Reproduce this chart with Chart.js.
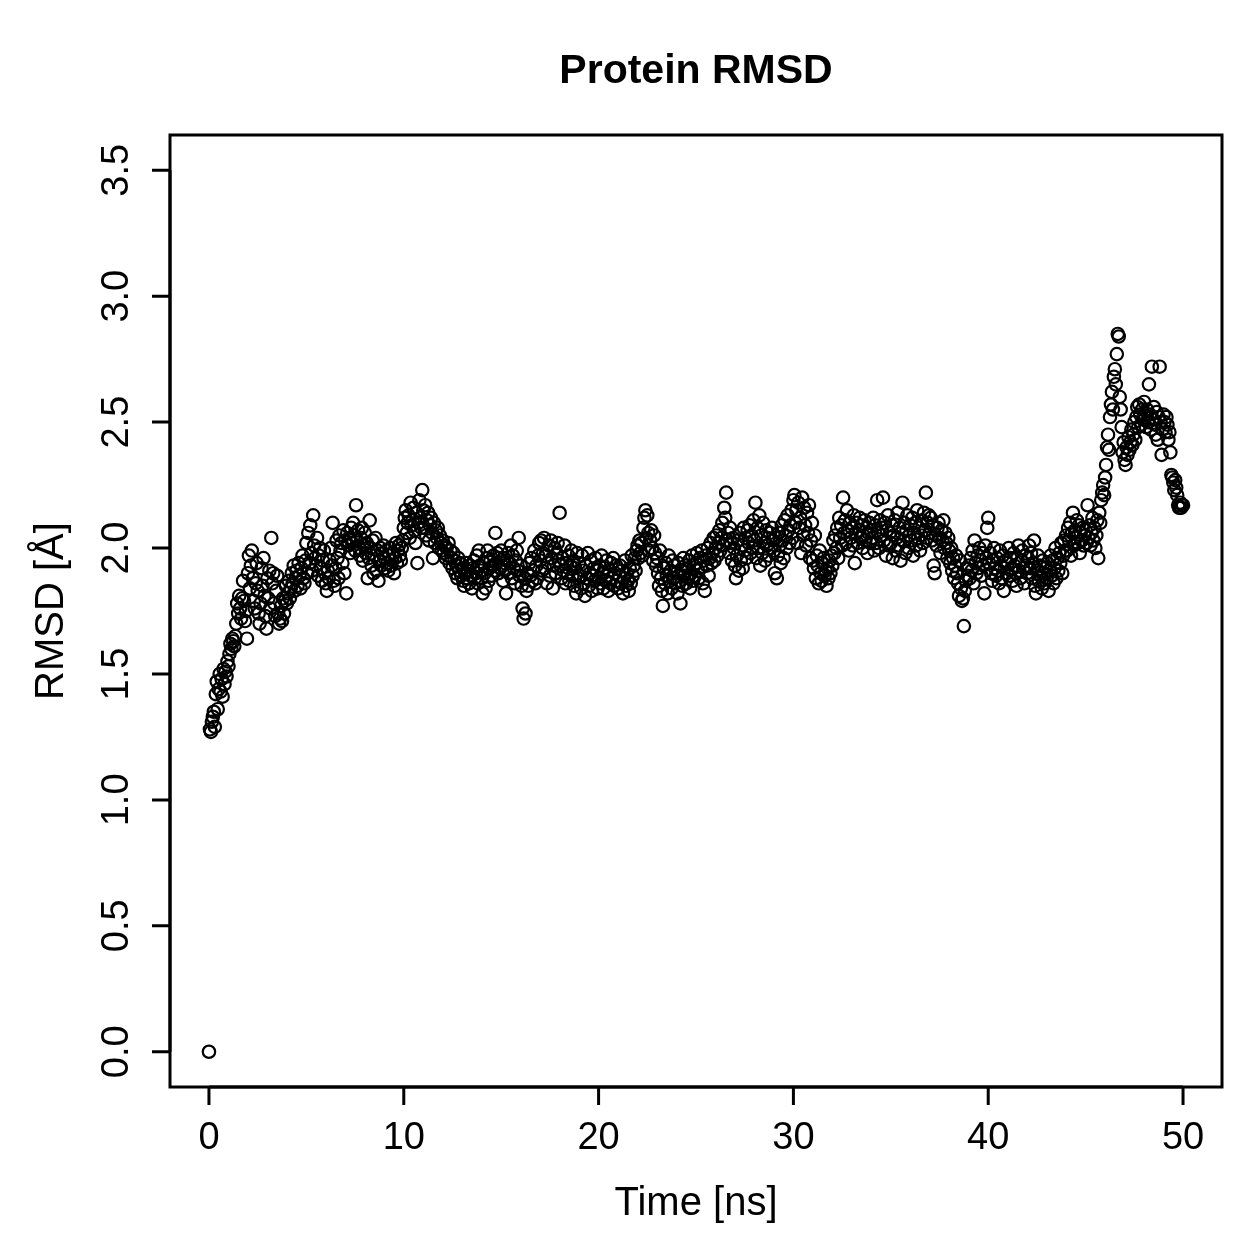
<!DOCTYPE html>
<html>
<head>
<meta charset="utf-8">
<title>Protein RMSD</title>
<script src="https://cdn.jsdelivr.net/npm/chart.js@4/dist/chart.umd.min.js"></script>
<style>
  body { margin: 0; background: #fff; }
  canvas { display: block; }
</style>
</head>
<body>
<canvas id="rmsdChart" width="1259" height="1259"></canvas>
<script>
// RMSD (Angstrom), one frame every 0.05 ns, rows of 1 ns
const frameStep = 0.05;
const rmsd = [
  0.00,1.28,1.27,1.31,1.33,1.35,1.29,1.42,1.47,1.36,1.44,1.50,1.43,1.48,1.41,1.52,1.46,1.51,1.49,1.55,
  1.53,1.58,1.62,1.60,1.64,1.63,1.61,1.65,1.70,1.78,1.74,1.81,1.76,1.72,1.80,1.87,1.79,1.71,1.75,1.64,
  1.90,1.97,1.84,1.93,1.99,1.88,1.79,1.76,1.86,1.94,1.83,1.74,1.70,1.78,1.92,1.85,1.96,1.81,1.73,1.68,
  1.88,1.80,1.91,1.76,2.04,1.86,1.90,1.78,1.73,1.83,1.89,1.74,1.70,1.72,1.77,1.71,1.80,1.74,1.79,1.85,
  1.78,1.82,1.87,1.80,1.84,1.90,1.86,1.93,1.83,1.88,1.91,1.85,1.94,1.89,1.84,1.92,1.97,1.88,1.86,1.95,
  2.02,1.90,2.06,1.94,2.09,1.98,1.91,2.13,2.01,1.96,1.93,2.04,1.89,1.97,2.00,1.92,1.87,1.95,1.99,1.90,
  1.86,1.83,1.91,1.88,1.95,2.00,1.93,2.10,1.87,1.85,1.92,2.03,1.96,1.88,2.05,1.99,2.02,1.94,2.07,1.90,
  2.03,1.82,2.06,2.01,2.04,1.98,2.08,2.02,2.10,2.05,1.99,2.17,2.03,2.07,2.00,1.97,2.04,2.08,1.95,2.01,
  2.06,1.98,2.02,1.88,1.96,2.11,2.00,1.93,2.03,1.90,1.97,2.04,1.91,1.99,1.87,1.95,2.00,1.93,1.98,2.01,
  1.96,1.92,1.99,1.94,1.91,1.97,2.00,1.93,1.95,1.98,1.90,1.96,2.02,1.94,1.99,2.01,1.97,1.95,2.00,2.03,
  2.08,2.12,2.15,2.06,2.10,2.13,2.04,2.18,2.09,2.11,2.16,2.07,2.02,2.14,1.94,2.10,2.19,2.12,2.08,2.23,
  2.15,2.08,2.17,2.05,2.11,2.14,2.03,2.09,2.12,2.06,1.96,2.10,2.02,2.07,2.04,2.08,2.00,2.05,2.02,1.99,
  2.03,1.98,2.01,1.96,2.00,1.97,2.02,1.94,1.99,1.96,1.92,1.98,1.95,1.90,1.93,1.88,1.96,1.91,1.94,1.89,
  1.92,1.87,1.85,1.90,1.94,1.88,1.91,1.86,1.93,1.89,1.84,1.92,1.95,1.88,1.90,1.97,1.86,1.99,1.93,1.91,
  1.88,1.82,1.94,1.90,1.84,1.96,1.99,1.87,1.92,1.95,1.89,1.93,1.97,1.91,2.06,1.94,1.98,1.90,1.96,1.92,
  1.99,1.93,1.87,1.96,1.91,1.82,1.95,1.98,1.90,1.94,2.01,1.88,1.97,1.92,1.86,1.95,1.99,1.91,2.04,1.89,
  1.93,1.85,1.76,1.72,1.88,1.74,1.83,1.90,1.85,1.94,1.89,1.96,1.87,1.91,1.99,1.86,1.93,1.88,1.97,2.02,
  1.95,2.03,1.91,1.98,2.04,1.92,1.97,1.86,1.94,2.01,1.89,2.03,1.96,1.84,1.93,2.00,1.90,1.98,2.02,1.95,
  2.14,1.93,1.88,1.96,1.91,2.01,1.86,1.94,1.90,1.97,1.87,1.93,1.99,1.89,1.95,1.85,1.92,1.82,1.98,1.88,
  1.94,1.89,1.84,1.97,1.91,1.86,1.81,1.93,1.88,1.98,1.85,1.90,1.95,1.83,1.89,1.92,1.87,1.96,1.91,1.84,
  1.88,1.93,1.86,1.97,1.90,1.84,1.92,1.87,1.95,1.89,1.83,1.91,1.86,1.94,1.88,1.96,1.85,1.90,1.93,1.87,
  1.84,1.89,1.93,1.86,1.91,1.82,1.88,1.95,1.85,1.90,1.87,1.83,1.92,1.86,1.97,1.89,1.93,1.96,1.91,1.99,
  2.01,1.96,2.03,1.98,2.02,1.97,2.08,2.12,2.15,2.04,2.13,2.06,1.99,2.03,2.07,2.00,1.95,2.05,1.98,1.93,
  1.96,1.90,1.85,1.99,1.88,1.83,1.77,1.92,1.86,1.94,1.89,1.82,1.97,1.87,1.91,1.84,1.95,1.88,1.93,1.86,
  1.90,1.82,1.94,1.87,1.78,1.91,1.85,1.96,1.89,1.93,1.86,1.92,1.88,1.95,1.84,1.90,1.97,1.87,1.93,1.89,
  1.94,1.98,1.91,1.88,1.96,1.92,1.99,1.86,1.95,1.83,1.97,1.93,2.00,1.89,1.96,2.02,1.94,1.98,2.04,1.95,
  2.00,2.05,1.97,2.02,2.07,1.99,2.04,2.10,2.01,2.16,2.12,2.22,2.03,2.06,1.98,2.08,2.02,1.95,2.04,2.00,
  1.93,1.88,1.97,2.03,1.91,2.06,1.95,2.01,1.92,2.08,1.99,2.04,1.96,2.07,2.02,2.09,1.98,2.05,2.00,2.11,
  2.03,2.18,1.96,2.08,2.00,2.13,1.93,2.05,1.98,2.10,2.02,1.95,2.07,2.01,2.04,1.97,2.06,2.00,2.08,2.03,
  1.99,1.90,2.04,1.88,1.97,2.06,2.01,1.94,2.09,2.03,1.96,2.11,2.05,2.00,2.13,2.07,2.02,2.09,2.15,2.04,
  2.19,2.21,2.10,2.15,2.02,2.18,2.08,2.12,1.98,2.20,2.05,2.16,2.09,2.01,2.14,2.06,2.17,1.96,2.03,2.10,
  1.95,1.92,2.05,1.88,1.97,1.93,1.86,1.99,1.90,1.87,1.94,1.96,1.89,1.91,1.85,1.92,1.88,1.95,1.90,1.97,
  1.93,2.03,1.98,2.05,2.00,2.08,1.96,2.12,2.04,2.09,2.01,2.20,2.06,2.11,2.02,2.15,2.07,1.99,2.10,2.04,
  2.08,2.01,2.13,1.94,2.06,2.10,2.02,2.07,2.12,2.04,2.09,2.00,2.05,2.11,2.03,2.08,1.98,2.06,2.10,2.02,
  2.07,2.04,2.12,1.99,2.09,2.02,2.19,2.06,2.00,2.11,2.05,2.08,2.20,2.03,2.10,1.97,2.07,2.13,2.01,2.06,
  2.02,2.09,1.96,2.05,2.11,1.99,2.04,2.14,2.01,2.08,1.95,2.06,2.18,2.03,2.10,1.98,2.07,2.13,2.00,2.05,
  2.09,2.03,2.12,1.97,2.06,2.10,2.01,2.15,2.04,2.08,1.99,2.05,2.11,2.02,2.14,2.07,2.22,2.04,2.10,2.13,
  2.06,2.12,2.03,2.09,1.93,1.90,2.05,2.01,2.08,2.10,2.04,1.98,2.07,2.03,2.11,2.00,2.06,2.02,1.96,2.04,
  1.99,1.94,2.00,1.91,1.96,1.88,1.93,1.97,1.90,1.86,1.81,1.95,1.84,1.79,1.80,1.69,1.83,1.87,1.92,1.89,
  1.93,1.88,1.96,1.91,1.99,1.86,2.03,1.94,1.90,1.97,1.92,2.00,1.95,1.89,1.98,1.93,1.82,2.01,1.96,2.08,
  2.12,1.94,1.98,1.90,1.87,1.95,2.00,1.92,1.89,1.96,1.91,1.86,1.99,1.93,1.88,1.97,1.83,1.92,1.95,1.90,
  1.94,2.00,1.89,1.96,1.92,1.87,1.98,1.93,1.90,1.85,1.96,2.01,1.91,1.88,1.95,1.99,1.92,1.86,1.97,1.93,
  1.90,1.96,2.01,1.92,1.98,1.88,1.94,2.03,1.85,1.82,1.91,1.97,1.87,1.93,1.89,1.84,1.95,1.90,1.86,1.92,
  1.88,1.94,1.83,1.91,1.97,1.89,1.95,1.86,1.92,2.00,1.88,1.96,1.91,1.98,1.94,2.02,1.90,1.97,2.03,1.99,
  2.05,1.99,2.08,2.03,2.10,1.97,2.06,2.14,2.01,2.07,2.04,2.11,2.02,2.09,1.98,2.06,2.03,2.08,2.01,2.05,
  2.07,2.02,2.17,2.04,2.09,2.01,2.06,2.12,2.03,2.08,2.00,2.05,2.11,1.96,2.14,2.10,2.19,2.22,2.25,2.21,
  2.28,2.33,2.40,2.45,2.39,2.52,2.57,2.62,2.55,2.68,2.71,2.65,2.77,2.85,2.84,2.60,2.55,2.48,2.38,2.42,
  2.35,2.33,2.40,2.37,2.44,2.39,2.42,2.47,2.41,2.45,2.50,2.43,2.52,2.56,2.48,2.57,2.53,2.49,2.55,2.51,
  2.58,2.52,2.48,2.55,2.50,2.65,2.53,2.47,2.72,2.51,2.56,2.49,2.45,2.54,2.43,2.52,2.72,2.50,2.37,2.47,
  2.53,2.50,2.46,2.52,2.49,2.43,2.46,2.38,2.29,2.28,2.26,2.23,2.27,2.24,2.21,2.17,2.16,2.18,2.16,2.17,
  2.17
];
const xTicks = [0, 10, 20, 30, 40, 50];
const yTicks = [0.0, 0.5, 1.0, 1.5, 2.0, 2.5, 3.0, 3.5];
const titleText = 'Protein RMSD';
const xTitle = 'Time [ns]';
const yTitle = 'RMSD [Å]';

const points = rmsd.map((v, i) => ({ x: i * frameStep, y: v }));

// R style box, ticks and labels drawn off the chart scales
const rAxes = {
  id: 'rAxes',
  afterDraw(chart) {
    const ctx = chart.ctx;
    const a = chart.chartArea;
    const xs = chart.scales.x, ys = chart.scales.y;
    const font = '"Liberation Sans", Arial, Helvetica, sans-serif';
    ctx.save();
    ctx.strokeStyle = '#000';
    ctx.fillStyle = '#000';
    ctx.lineWidth = 3;
    ctx.lineCap = 'butt';
    ctx.strokeRect(a.left, a.top, a.right - a.left, a.bottom - a.top);

    // x axis
    ctx.beginPath();
    ctx.moveTo(xs.getPixelForValue(xTicks[0]), a.bottom);
    ctx.lineTo(xs.getPixelForValue(xTicks[xTicks.length - 1]), a.bottom);
    xTicks.forEach(t => {
      const px = xs.getPixelForValue(t);
      ctx.moveTo(px, a.bottom);
      ctx.lineTo(px, a.bottom + 18);
    });
    ctx.stroke();
    ctx.font = '38px ' + font;
    ctx.textAlign = 'center';
    ctx.textBaseline = 'alphabetic';
    xTicks.forEach(t => ctx.fillText(String(t), xs.getPixelForValue(t), 1149));

    // y axis
    ctx.beginPath();
    ctx.moveTo(a.left, ys.getPixelForValue(yTicks[0]));
    ctx.lineTo(a.left, ys.getPixelForValue(yTicks[yTicks.length - 1]));
    yTicks.forEach(t => {
      const py = ys.getPixelForValue(t);
      ctx.moveTo(a.left, py);
      ctx.lineTo(a.left - 18, py);
    });
    ctx.stroke();
    yTicks.forEach(t => {
      ctx.save();
      ctx.translate(128, ys.getPixelForValue(t));
      ctx.rotate(-Math.PI / 2);
      ctx.fillText(t.toFixed(1), 0, 0);
      ctx.restore();
    });

    // titles
    ctx.font = '40px ' + font;
    ctx.fillText(xTitle, (a.left + a.right) / 2, 1215);
    ctx.save();
    ctx.translate(63, (a.top + a.bottom) / 2);
    ctx.rotate(-Math.PI / 2);
    ctx.fillText(yTitle, 0, 0);
    ctx.restore();
    ctx.font = 'bold 41px ' + font;
    ctx.fillText(titleText, (a.left + a.right) / 2, 83);
    ctx.restore();
  }
};

new Chart(document.getElementById('rmsdChart'), {
  type: 'scatter',
  data: {
    datasets: [{
      data: points,
      pointStyle: 'circle',
      pointRadius: 6.2,
      borderWidth: 2.2,
      borderColor: '#000',
      backgroundColor: 'rgba(0,0,0,0)'
    }]
  },
  options: {
    responsive: false,
    animation: false,
    events: [],
    layout: { padding: { left: 170, top: 135, right: 37, bottom: 172 } },
    plugins: { legend: { display: false }, tooltip: { enabled: false }, title: { display: false } },
    scales: {
      x: { type: 'linear', display: false, min: -2, max: 52 },
      y: { type: 'linear', display: false, min: -0.14, max: 3.64 }
    }
  },
  plugins: [rAxes]
});
</script>
</body>
</html>
